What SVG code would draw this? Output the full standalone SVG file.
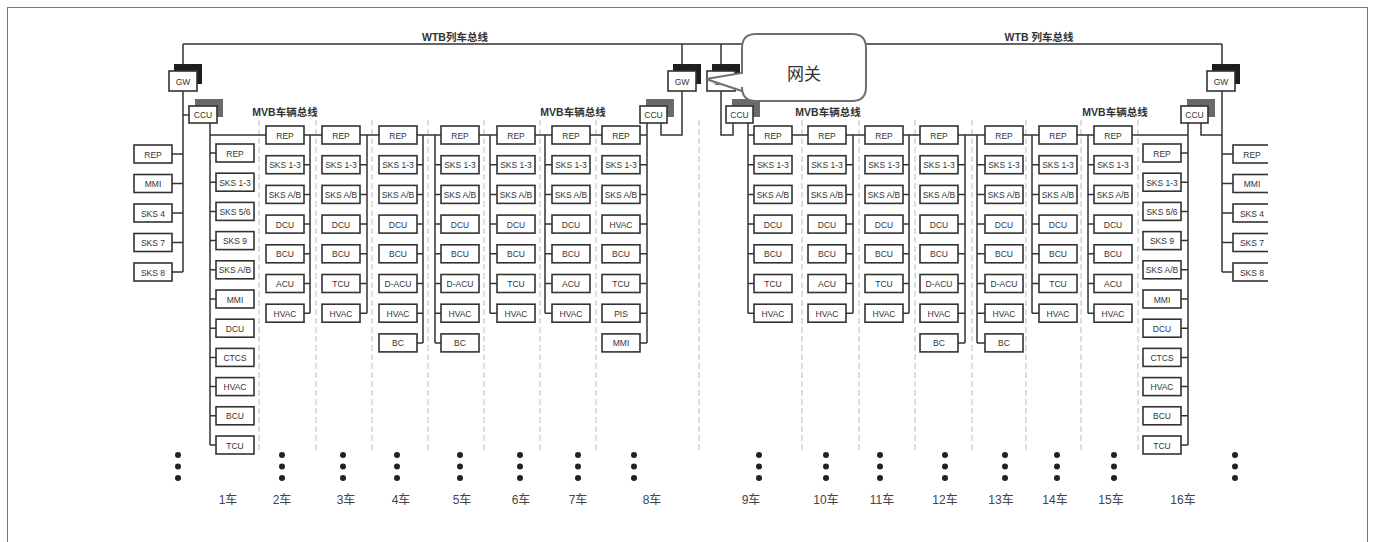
<svg xmlns="http://www.w3.org/2000/svg" width="1375" height="542" viewBox="0 0 1375 542">
<style>
.b{fill:#fff;stroke:#333;stroke-width:1.6}
.t{font-family:"Liberation Sans",Arial,sans-serif;font-size:8.5px;fill:#333;text-anchor:middle}
.w{fill:none;stroke:#333;stroke-width:1.5}
.d{fill:none;stroke:#bdbdbd;stroke-width:1;stroke-dasharray:6 3}
.sg{fill:#1e1e1e}
.sc{fill:#6a6a6a}
.lb{font-family:"Liberation Sans","Noto Sans CJK SC",sans-serif;font-size:10.5px;fill:#333;text-anchor:middle;font-weight:bold}
.cl{font-family:"Liberation Sans","Noto Sans CJK SC",sans-serif;font-size:12px;fill:#444;text-anchor:middle}
.dot{fill:#222}
</style>
<defs>
<clipPath id="clipR"><rect x="0" y="0" width="1268" height="542"/></clipPath>
</defs>
<rect x="0" y="0" width="1375" height="542" fill="#fff"/>
<rect x="7.5" y="7.5" width="1360" height="545" fill="none" stroke="#777" stroke-width="1"/>

<g id="separators">
<path class="d" d="M259,120V450 M316,120V450 M372,120V450 M428,120V450 M484,120V450 M540,120V450 M596,120V450 M699,120V450 M802,120V450 M859,120V450 M915,120V450 M972,120V450 M1026,120V450 M1081,120V450 M1138,120V450"/>
</g>

<g id="labels">
<text class="lb" x="455" y="41">WTB列车总线</text>
<text class="lb" x="1039" y="41">WTB 列车总线</text>
<text class="lb" x="285" y="116">MVB车辆总线</text>
<text class="lb" x="573" y="116">MVB车辆总线</text>
<text class="lb" x="828" y="116">MVB车辆总线</text>
<text class="lb" x="1115" y="116">MVB车辆总线</text>
</g>

<g id="connectors">
<path class="w" d="M183,44H1222 M183,44V272 M183,115H189 M682,44V135H661V123 M721,44V135H733V123 M1222,44V272 M1201,123V135H1222"/>
<path class="w" d="M172,154H183 M172,183.5H183 M172,213H183 M172,242.5H183 M172,272H183"/>
<path class="w" d="M210,123V445 M210,135H647 M210,153H216 M210,182.2H216 M210,211.4H216 M210,240.6H216 M210,269.8H216 M210,299H216 M210,328.2H216 M210,357.4H216 M210,386.6H216 M210,415.8H216 M210,445H216"/>
<path class="w" d="M310,135V313.2 M304,164.7H310 M304,194.4H310 M304,224.1H310 M304,253.8H310 M304,283.5H310 M304,313.2H310"/>
<path class="w" d="M367,135V313.2 M360,164.7H367 M360,194.4H367 M360,224.1H367 M360,253.8H367 M360,283.5H367 M360,313.2H367"/>
<path class="w" d="M423,135V342.9 M417,164.7H423 M417,194.4H423 M417,224.1H423 M417,253.8H423 M417,283.5H423 M417,313.2H423 M417,342.9H423"/>
<path class="w" d="M435,135V342.9 M435,164.7H441 M435,194.4H441 M435,224.1H441 M435,253.8H441 M435,283.5H441 M435,313.2H441 M435,342.9H441"/>
<path class="w" d="M490,135V313.2 M490,164.7H497 M490,194.4H497 M490,224.1H497 M490,253.8H497 M490,283.5H497 M490,313.2H497"/>
<path class="w" d="M545,135V313.2 M545,164.7H552 M545,194.4H552 M545,224.1H552 M545,253.8H552 M545,283.5H552 M545,313.2H552"/>
<path class="w" d="M647,123V342.9 M640,164.7H647 M640,194.4H647 M640,224.1H647 M640,253.8H647 M640,283.5H647 M640,313.2H647 M640,342.9H647"/>
<path class="w" d="M748,123V313.2 M748,135H1188 M748,164.7H754 M748,194.4H754 M748,224.1H754 M748,253.8H754 M748,283.5H754 M748,313.2H754"/>
<path class="w" d="M853,135V313.2 M846,164.7H853 M846,194.4H853 M846,224.1H853 M846,253.8H853 M846,283.5H853 M846,313.2H853"/>
<path class="w" d="M909,135V313.2 M903,164.7H909 M903,194.4H909 M903,224.1H909 M903,253.8H909 M903,283.5H909 M903,313.2H909"/>
<path class="w" d="M965,135V342.9 M958,164.7H965 M958,194.4H965 M958,224.1H965 M958,253.8H965 M958,283.5H965 M958,313.2H965 M958,342.9H965"/>
<path class="w" d="M977,135V342.9 M977,164.7H985 M977,194.4H985 M977,224.1H985 M977,253.8H985 M977,283.5H985 M977,313.2H985 M977,342.9H985"/>
<path class="w" d="M1032,135V313.2 M1032,164.7H1039 M1032,194.4H1039 M1032,224.1H1039 M1032,253.8H1039 M1032,283.5H1039 M1032,313.2H1039"/>
<path class="w" d="M1088,135V313.2 M1088,164.7H1094 M1088,194.4H1094 M1088,224.1H1094 M1088,253.8H1094 M1088,283.5H1094 M1088,313.2H1094"/>
<path class="w" d="M1188,123V445 M1181,153H1188 M1181,182.2H1188 M1181,211.4H1188 M1181,240.6H1188 M1181,269.8H1188 M1181,299H1188 M1181,328.2H1188 M1181,357.4H1188 M1181,386.6H1188 M1181,415.8H1188 M1181,445H1188"/>
<path class="w" d="M1222,154H1233 M1222,183.5H1233 M1222,213H1233 M1222,242.5H1233 M1222,272H1233"/>
</g>

<g id="gw1"><rect class="sg" x="174" y="64" width="28" height="20"/><rect class="b" x="169" y="71" width="28" height="20"/><text class="t" x="183" y="84.5">GW</text></g>
<g id="gw8"><rect class="sg" x="673" y="64" width="28" height="20"/><rect class="b" x="668" y="71" width="28" height="20"/><text class="t" x="682" y="84.5">GW</text></g>
<g id="gw9"><rect class="sg" x="712" y="64" width="28" height="20"/><rect class="b" x="707" y="71" width="28" height="20"/><text class="t" x="721" y="84.5">GW</text></g>
<g id="gw16"><rect class="sg" x="1212" y="64" width="28" height="20"/><rect class="b" x="1207" y="71" width="28" height="20"/><text class="t" x="1221" y="84.5">GW</text></g>
<g id="ccu1"><rect class="sc" x="195" y="99" width="28" height="18"/><rect class="b" x="189" y="106" width="28" height="17"/><text class="t" x="203" y="118">CCU</text></g>
<g id="ccu8"><rect class="sc" x="646" y="99" width="28" height="18"/><rect class="b" x="640" y="106" width="27" height="17"/><text class="t" x="653.5" y="118">CCU</text></g>
<g id="ccu9"><rect class="sc" x="732" y="99" width="28" height="18"/><rect class="b" x="726" y="106" width="27" height="17"/><text class="t" x="739.5" y="118">CCU</text></g>
<g id="ccu16"><rect class="sc" x="1187" y="99" width="28" height="18"/><rect class="b" x="1181" y="106" width="27" height="17"/><text class="t" x="1194.5" y="118">CCU</text></g>

<g id="L-1" transform="translate(134,145)"><rect class="b" width="38" height="18"/><text class="t" x="19" y="12.5">REP</text></g>
<g id="L-2" transform="translate(134,174.5)"><rect class="b" width="38" height="18"/><text class="t" x="19" y="12.5">MMI</text></g>
<g id="L-3" transform="translate(134,204)"><rect class="b" width="38" height="18"/><text class="t" x="19" y="12.5">SKS 4</text></g>
<g id="L-4" transform="translate(134,233.5)"><rect class="b" width="38" height="18"/><text class="t" x="19" y="12.5">SKS 7</text></g>
<g id="L-5" transform="translate(134,263)"><rect class="b" width="38" height="18"/><text class="t" x="19" y="12.5">SKS 8</text></g>

<g id="c1-1" transform="translate(216,144)"><rect class="b" width="38" height="18"/><text class="t" x="19" y="12.5">REP</text></g>
<g id="c1-2" transform="translate(216,173.2)"><rect class="b" width="38" height="18"/><text class="t" x="19" y="12.5">SKS 1-3</text></g>
<g id="c1-3" transform="translate(216,202.4)"><rect class="b" width="38" height="18"/><text class="t" x="19" y="12.5">SKS 5/6</text></g>
<g id="c1-4" transform="translate(216,231.6)"><rect class="b" width="38" height="18"/><text class="t" x="19" y="12.5">SKS 9</text></g>
<g id="c1-5" transform="translate(216,260.8)"><rect class="b" width="38" height="18"/><text class="t" x="19" y="12.5">SKS A/B</text></g>
<g id="c1-6" transform="translate(216,290)"><rect class="b" width="38" height="18"/><text class="t" x="19" y="12.5">MMI</text></g>
<g id="c1-7" transform="translate(216,319.2)"><rect class="b" width="38" height="18"/><text class="t" x="19" y="12.5">DCU</text></g>
<g id="c1-8" transform="translate(216,348.4)"><rect class="b" width="38" height="18"/><text class="t" x="19" y="12.5">CTCS</text></g>
<g id="c1-9" transform="translate(216,377.6)"><rect class="b" width="38" height="18"/><text class="t" x="19" y="12.5">HVAC</text></g>
<g id="c1-10" transform="translate(216,406.8)"><rect class="b" width="38" height="18"/><text class="t" x="19" y="12.5">BCU</text></g>
<g id="c1-11" transform="translate(216,436)"><rect class="b" width="38" height="18"/><text class="t" x="19" y="12.5">TCU</text></g>

<g id="c2-1" transform="translate(266,126)"><rect class="b" width="38" height="18"/><text class="t" x="19" y="12.5">REP</text></g>
<g id="c2-2" transform="translate(266,155.7)"><rect class="b" width="38" height="18"/><text class="t" x="19" y="12.5">SKS 1-3</text></g>
<g id="c2-3" transform="translate(266,185.4)"><rect class="b" width="38" height="18"/><text class="t" x="19" y="12.5">SKS A/B</text></g>
<g id="c2-4" transform="translate(266,215.1)"><rect class="b" width="38" height="18"/><text class="t" x="19" y="12.5">DCU</text></g>
<g id="c2-5" transform="translate(266,244.8)"><rect class="b" width="38" height="18"/><text class="t" x="19" y="12.5">BCU</text></g>
<g id="c2-6" transform="translate(266,274.5)"><rect class="b" width="38" height="18"/><text class="t" x="19" y="12.5">ACU</text></g>
<g id="c2-7" transform="translate(266,304.2)"><rect class="b" width="38" height="18"/><text class="t" x="19" y="12.5">HVAC</text></g>

<g id="c3-1" transform="translate(322,126)"><rect class="b" width="38" height="18"/><text class="t" x="19" y="12.5">REP</text></g>
<g id="c3-2" transform="translate(322,155.7)"><rect class="b" width="38" height="18"/><text class="t" x="19" y="12.5">SKS 1-3</text></g>
<g id="c3-3" transform="translate(322,185.4)"><rect class="b" width="38" height="18"/><text class="t" x="19" y="12.5">SKS A/B</text></g>
<g id="c3-4" transform="translate(322,215.1)"><rect class="b" width="38" height="18"/><text class="t" x="19" y="12.5">DCU</text></g>
<g id="c3-5" transform="translate(322,244.8)"><rect class="b" width="38" height="18"/><text class="t" x="19" y="12.5">BCU</text></g>
<g id="c3-6" transform="translate(322,274.5)"><rect class="b" width="38" height="18"/><text class="t" x="19" y="12.5">TCU</text></g>
<g id="c3-7" transform="translate(322,304.2)"><rect class="b" width="38" height="18"/><text class="t" x="19" y="12.5">HVAC</text></g>

<g id="c4-1" transform="translate(379,126)"><rect class="b" width="38" height="18"/><text class="t" x="19" y="12.5">REP</text></g>
<g id="c4-2" transform="translate(379,155.7)"><rect class="b" width="38" height="18"/><text class="t" x="19" y="12.5">SKS 1-3</text></g>
<g id="c4-3" transform="translate(379,185.4)"><rect class="b" width="38" height="18"/><text class="t" x="19" y="12.5">SKS A/B</text></g>
<g id="c4-4" transform="translate(379,215.1)"><rect class="b" width="38" height="18"/><text class="t" x="19" y="12.5">DCU</text></g>
<g id="c4-5" transform="translate(379,244.8)"><rect class="b" width="38" height="18"/><text class="t" x="19" y="12.5">BCU</text></g>
<g id="c4-6" transform="translate(379,274.5)"><rect class="b" width="38" height="18"/><text class="t" x="19" y="12.5">D-ACU</text></g>
<g id="c4-7" transform="translate(379,304.2)"><rect class="b" width="38" height="18"/><text class="t" x="19" y="12.5">HVAC</text></g>
<g id="c4-8" transform="translate(379,333.9)"><rect class="b" width="38" height="18"/><text class="t" x="19" y="12.5">BC</text></g>

<g id="c5-1" transform="translate(441,126)"><rect class="b" width="38" height="18"/><text class="t" x="19" y="12.5">REP</text></g>
<g id="c5-2" transform="translate(441,155.7)"><rect class="b" width="38" height="18"/><text class="t" x="19" y="12.5">SKS 1-3</text></g>
<g id="c5-3" transform="translate(441,185.4)"><rect class="b" width="38" height="18"/><text class="t" x="19" y="12.5">SKS A/B</text></g>
<g id="c5-4" transform="translate(441,215.1)"><rect class="b" width="38" height="18"/><text class="t" x="19" y="12.5">DCU</text></g>
<g id="c5-5" transform="translate(441,244.8)"><rect class="b" width="38" height="18"/><text class="t" x="19" y="12.5">BCU</text></g>
<g id="c5-6" transform="translate(441,274.5)"><rect class="b" width="38" height="18"/><text class="t" x="19" y="12.5">D-ACU</text></g>
<g id="c5-7" transform="translate(441,304.2)"><rect class="b" width="38" height="18"/><text class="t" x="19" y="12.5">HVAC</text></g>
<g id="c5-8" transform="translate(441,333.9)"><rect class="b" width="38" height="18"/><text class="t" x="19" y="12.5">BC</text></g>

<g id="c6-1" transform="translate(497,126)"><rect class="b" width="38" height="18"/><text class="t" x="19" y="12.5">REP</text></g>
<g id="c6-2" transform="translate(497,155.7)"><rect class="b" width="38" height="18"/><text class="t" x="19" y="12.5">SKS 1-3</text></g>
<g id="c6-3" transform="translate(497,185.4)"><rect class="b" width="38" height="18"/><text class="t" x="19" y="12.5">SKS A/B</text></g>
<g id="c6-4" transform="translate(497,215.1)"><rect class="b" width="38" height="18"/><text class="t" x="19" y="12.5">DCU</text></g>
<g id="c6-5" transform="translate(497,244.8)"><rect class="b" width="38" height="18"/><text class="t" x="19" y="12.5">BCU</text></g>
<g id="c6-6" transform="translate(497,274.5)"><rect class="b" width="38" height="18"/><text class="t" x="19" y="12.5">TCU</text></g>
<g id="c6-7" transform="translate(497,304.2)"><rect class="b" width="38" height="18"/><text class="t" x="19" y="12.5">HVAC</text></g>

<g id="c7-1" transform="translate(552,126)"><rect class="b" width="38" height="18"/><text class="t" x="19" y="12.5">REP</text></g>
<g id="c7-2" transform="translate(552,155.7)"><rect class="b" width="38" height="18"/><text class="t" x="19" y="12.5">SKS 1-3</text></g>
<g id="c7-3" transform="translate(552,185.4)"><rect class="b" width="38" height="18"/><text class="t" x="19" y="12.5">SKS A/B</text></g>
<g id="c7-4" transform="translate(552,215.1)"><rect class="b" width="38" height="18"/><text class="t" x="19" y="12.5">DCU</text></g>
<g id="c7-5" transform="translate(552,244.8)"><rect class="b" width="38" height="18"/><text class="t" x="19" y="12.5">BCU</text></g>
<g id="c7-6" transform="translate(552,274.5)"><rect class="b" width="38" height="18"/><text class="t" x="19" y="12.5">ACU</text></g>
<g id="c7-7" transform="translate(552,304.2)"><rect class="b" width="38" height="18"/><text class="t" x="19" y="12.5">HVAC</text></g>

<g id="c8-1" transform="translate(602,126)"><rect class="b" width="38" height="18"/><text class="t" x="19" y="12.5">REP</text></g>
<g id="c8-2" transform="translate(602,155.7)"><rect class="b" width="38" height="18"/><text class="t" x="19" y="12.5">SKS 1-3</text></g>
<g id="c8-3" transform="translate(602,185.4)"><rect class="b" width="38" height="18"/><text class="t" x="19" y="12.5">SKS A/B</text></g>
<g id="c8-4" transform="translate(602,215.1)"><rect class="b" width="38" height="18"/><text class="t" x="19" y="12.5">HVAC</text></g>
<g id="c8-5" transform="translate(602,244.8)"><rect class="b" width="38" height="18"/><text class="t" x="19" y="12.5">BCU</text></g>
<g id="c8-6" transform="translate(602,274.5)"><rect class="b" width="38" height="18"/><text class="t" x="19" y="12.5">TCU</text></g>
<g id="c8-7" transform="translate(602,304.2)"><rect class="b" width="38" height="18"/><text class="t" x="19" y="12.5">PIS</text></g>
<g id="c8-8" transform="translate(602,333.9)"><rect class="b" width="38" height="18"/><text class="t" x="19" y="12.5">MMI</text></g>

<g id="c9-1" transform="translate(754,126)"><rect class="b" width="38" height="18"/><text class="t" x="19" y="12.5">REP</text></g>
<g id="c9-2" transform="translate(754,155.7)"><rect class="b" width="38" height="18"/><text class="t" x="19" y="12.5">SKS 1-3</text></g>
<g id="c9-3" transform="translate(754,185.4)"><rect class="b" width="38" height="18"/><text class="t" x="19" y="12.5">SKS A/B</text></g>
<g id="c9-4" transform="translate(754,215.1)"><rect class="b" width="38" height="18"/><text class="t" x="19" y="12.5">DCU</text></g>
<g id="c9-5" transform="translate(754,244.8)"><rect class="b" width="38" height="18"/><text class="t" x="19" y="12.5">BCU</text></g>
<g id="c9-6" transform="translate(754,274.5)"><rect class="b" width="38" height="18"/><text class="t" x="19" y="12.5">TCU</text></g>
<g id="c9-7" transform="translate(754,304.2)"><rect class="b" width="38" height="18"/><text class="t" x="19" y="12.5">HVAC</text></g>

<g id="c10-1" transform="translate(808,126)"><rect class="b" width="38" height="18"/><text class="t" x="19" y="12.5">REP</text></g>
<g id="c10-2" transform="translate(808,155.7)"><rect class="b" width="38" height="18"/><text class="t" x="19" y="12.5">SKS 1-3</text></g>
<g id="c10-3" transform="translate(808,185.4)"><rect class="b" width="38" height="18"/><text class="t" x="19" y="12.5">SKS A/B</text></g>
<g id="c10-4" transform="translate(808,215.1)"><rect class="b" width="38" height="18"/><text class="t" x="19" y="12.5">DCU</text></g>
<g id="c10-5" transform="translate(808,244.8)"><rect class="b" width="38" height="18"/><text class="t" x="19" y="12.5">BCU</text></g>
<g id="c10-6" transform="translate(808,274.5)"><rect class="b" width="38" height="18"/><text class="t" x="19" y="12.5">ACU</text></g>
<g id="c10-7" transform="translate(808,304.2)"><rect class="b" width="38" height="18"/><text class="t" x="19" y="12.5">HVAC</text></g>

<g id="c11-1" transform="translate(865,126)"><rect class="b" width="38" height="18"/><text class="t" x="19" y="12.5">REP</text></g>
<g id="c11-2" transform="translate(865,155.7)"><rect class="b" width="38" height="18"/><text class="t" x="19" y="12.5">SKS 1-3</text></g>
<g id="c11-3" transform="translate(865,185.4)"><rect class="b" width="38" height="18"/><text class="t" x="19" y="12.5">SKS A/B</text></g>
<g id="c11-4" transform="translate(865,215.1)"><rect class="b" width="38" height="18"/><text class="t" x="19" y="12.5">DCU</text></g>
<g id="c11-5" transform="translate(865,244.8)"><rect class="b" width="38" height="18"/><text class="t" x="19" y="12.5">BCU</text></g>
<g id="c11-6" transform="translate(865,274.5)"><rect class="b" width="38" height="18"/><text class="t" x="19" y="12.5">TCU</text></g>
<g id="c11-7" transform="translate(865,304.2)"><rect class="b" width="38" height="18"/><text class="t" x="19" y="12.5">HVAC</text></g>

<g id="c12-1" transform="translate(920,126)"><rect class="b" width="38" height="18"/><text class="t" x="19" y="12.5">REP</text></g>
<g id="c12-2" transform="translate(920,155.7)"><rect class="b" width="38" height="18"/><text class="t" x="19" y="12.5">SKS 1-3</text></g>
<g id="c12-3" transform="translate(920,185.4)"><rect class="b" width="38" height="18"/><text class="t" x="19" y="12.5">SKS A/B</text></g>
<g id="c12-4" transform="translate(920,215.1)"><rect class="b" width="38" height="18"/><text class="t" x="19" y="12.5">DCU</text></g>
<g id="c12-5" transform="translate(920,244.8)"><rect class="b" width="38" height="18"/><text class="t" x="19" y="12.5">BCU</text></g>
<g id="c12-6" transform="translate(920,274.5)"><rect class="b" width="38" height="18"/><text class="t" x="19" y="12.5">D-ACU</text></g>
<g id="c12-7" transform="translate(920,304.2)"><rect class="b" width="38" height="18"/><text class="t" x="19" y="12.5">HVAC</text></g>
<g id="c12-8" transform="translate(920,333.9)"><rect class="b" width="38" height="18"/><text class="t" x="19" y="12.5">BC</text></g>

<g id="c13-1" transform="translate(985,126)"><rect class="b" width="38" height="18"/><text class="t" x="19" y="12.5">REP</text></g>
<g id="c13-2" transform="translate(985,155.7)"><rect class="b" width="38" height="18"/><text class="t" x="19" y="12.5">SKS 1-3</text></g>
<g id="c13-3" transform="translate(985,185.4)"><rect class="b" width="38" height="18"/><text class="t" x="19" y="12.5">SKS A/B</text></g>
<g id="c13-4" transform="translate(985,215.1)"><rect class="b" width="38" height="18"/><text class="t" x="19" y="12.5">DCU</text></g>
<g id="c13-5" transform="translate(985,244.8)"><rect class="b" width="38" height="18"/><text class="t" x="19" y="12.5">BCU</text></g>
<g id="c13-6" transform="translate(985,274.5)"><rect class="b" width="38" height="18"/><text class="t" x="19" y="12.5">D-ACU</text></g>
<g id="c13-7" transform="translate(985,304.2)"><rect class="b" width="38" height="18"/><text class="t" x="19" y="12.5">HVAC</text></g>
<g id="c13-8" transform="translate(985,333.9)"><rect class="b" width="38" height="18"/><text class="t" x="19" y="12.5">BC</text></g>

<g id="c14-1" transform="translate(1039,126)"><rect class="b" width="38" height="18"/><text class="t" x="19" y="12.5">REP</text></g>
<g id="c14-2" transform="translate(1039,155.7)"><rect class="b" width="38" height="18"/><text class="t" x="19" y="12.5">SKS 1-3</text></g>
<g id="c14-3" transform="translate(1039,185.4)"><rect class="b" width="38" height="18"/><text class="t" x="19" y="12.5">SKS A/B</text></g>
<g id="c14-4" transform="translate(1039,215.1)"><rect class="b" width="38" height="18"/><text class="t" x="19" y="12.5">DCU</text></g>
<g id="c14-5" transform="translate(1039,244.8)"><rect class="b" width="38" height="18"/><text class="t" x="19" y="12.5">BCU</text></g>
<g id="c14-6" transform="translate(1039,274.5)"><rect class="b" width="38" height="18"/><text class="t" x="19" y="12.5">TCU</text></g>
<g id="c14-7" transform="translate(1039,304.2)"><rect class="b" width="38" height="18"/><text class="t" x="19" y="12.5">HVAC</text></g>

<g id="c15-1" transform="translate(1094,126)"><rect class="b" width="38" height="18"/><text class="t" x="19" y="12.5">REP</text></g>
<g id="c15-2" transform="translate(1094,155.7)"><rect class="b" width="38" height="18"/><text class="t" x="19" y="12.5">SKS 1-3</text></g>
<g id="c15-3" transform="translate(1094,185.4)"><rect class="b" width="38" height="18"/><text class="t" x="19" y="12.5">SKS A/B</text></g>
<g id="c15-4" transform="translate(1094,215.1)"><rect class="b" width="38" height="18"/><text class="t" x="19" y="12.5">DCU</text></g>
<g id="c15-5" transform="translate(1094,244.8)"><rect class="b" width="38" height="18"/><text class="t" x="19" y="12.5">BCU</text></g>
<g id="c15-6" transform="translate(1094,274.5)"><rect class="b" width="38" height="18"/><text class="t" x="19" y="12.5">ACU</text></g>
<g id="c15-7" transform="translate(1094,304.2)"><rect class="b" width="38" height="18"/><text class="t" x="19" y="12.5">HVAC</text></g>

<g id="c16-1" transform="translate(1143,144)"><rect class="b" width="38" height="18"/><text class="t" x="19" y="12.5">REP</text></g>
<g id="c16-2" transform="translate(1143,173.2)"><rect class="b" width="38" height="18"/><text class="t" x="19" y="12.5">SKS 1-3</text></g>
<g id="c16-3" transform="translate(1143,202.4)"><rect class="b" width="38" height="18"/><text class="t" x="19" y="12.5">SKS 5/6</text></g>
<g id="c16-4" transform="translate(1143,231.6)"><rect class="b" width="38" height="18"/><text class="t" x="19" y="12.5">SKS 9</text></g>
<g id="c16-5" transform="translate(1143,260.8)"><rect class="b" width="38" height="18"/><text class="t" x="19" y="12.5">SKS A/B</text></g>
<g id="c16-6" transform="translate(1143,290)"><rect class="b" width="38" height="18"/><text class="t" x="19" y="12.5">MMI</text></g>
<g id="c16-7" transform="translate(1143,319.2)"><rect class="b" width="38" height="18"/><text class="t" x="19" y="12.5">DCU</text></g>
<g id="c16-8" transform="translate(1143,348.4)"><rect class="b" width="38" height="18"/><text class="t" x="19" y="12.5">CTCS</text></g>
<g id="c16-9" transform="translate(1143,377.6)"><rect class="b" width="38" height="18"/><text class="t" x="19" y="12.5">HVAC</text></g>
<g id="c16-10" transform="translate(1143,406.8)"><rect class="b" width="38" height="18"/><text class="t" x="19" y="12.5">BCU</text></g>
<g id="c16-11" transform="translate(1143,436)"><rect class="b" width="38" height="18"/><text class="t" x="19" y="12.5">TCU</text></g>

<g clip-path="url(#clipR)">
<g id="R-1" transform="translate(1233,145)"><rect class="b" width="38" height="18"/><text class="t" x="19" y="12.5">REP</text></g>
<g id="R-2" transform="translate(1233,174.5)"><rect class="b" width="38" height="18"/><text class="t" x="19" y="12.5">MMI</text></g>
<g id="R-3" transform="translate(1233,204)"><rect class="b" width="38" height="18"/><text class="t" x="19" y="12.5">SKS 4</text></g>
<g id="R-4" transform="translate(1233,233.5)"><rect class="b" width="38" height="18"/><text class="t" x="19" y="12.5">SKS 7</text></g>
<g id="R-5" transform="translate(1233,263)"><rect class="b" width="38" height="18"/><text class="t" x="19" y="12.5">SKS 8</text></g>
</g>

<g id="ellipses">
<g class="dot">
<circle cx="178" cy="455" r="3"/><circle cx="178" cy="466.5" r="3"/><circle cx="178" cy="478" r="3"/>
<circle cx="282" cy="455" r="3"/><circle cx="282" cy="466.5" r="3"/><circle cx="282" cy="478" r="3"/>
<circle cx="343" cy="455" r="3"/><circle cx="343" cy="466.5" r="3"/><circle cx="343" cy="478" r="3"/>
<circle cx="397" cy="455" r="3"/><circle cx="397" cy="466.5" r="3"/><circle cx="397" cy="478" r="3"/>
<circle cx="460" cy="455" r="3"/><circle cx="460" cy="466.5" r="3"/><circle cx="460" cy="478" r="3"/>
<circle cx="520" cy="455" r="3"/><circle cx="520" cy="466.5" r="3"/><circle cx="520" cy="478" r="3"/>
<circle cx="578" cy="455" r="3"/><circle cx="578" cy="466.5" r="3"/><circle cx="578" cy="478" r="3"/>
<circle cx="634" cy="455" r="3"/><circle cx="634" cy="466.5" r="3"/><circle cx="634" cy="478" r="3"/>
<circle cx="759" cy="455" r="3"/><circle cx="759" cy="466.5" r="3"/><circle cx="759" cy="478" r="3"/>
<circle cx="826" cy="455" r="3"/><circle cx="826" cy="466.5" r="3"/><circle cx="826" cy="478" r="3"/>
<circle cx="880" cy="455" r="3"/><circle cx="880" cy="466.5" r="3"/><circle cx="880" cy="478" r="3"/>
<circle cx="945" cy="455" r="3"/><circle cx="945" cy="466.5" r="3"/><circle cx="945" cy="478" r="3"/>
<circle cx="1005" cy="455" r="3"/><circle cx="1005" cy="466.5" r="3"/><circle cx="1005" cy="478" r="3"/>
<circle cx="1057" cy="455" r="3"/><circle cx="1057" cy="466.5" r="3"/><circle cx="1057" cy="478" r="3"/>
<circle cx="1114" cy="455" r="3"/><circle cx="1114" cy="466.5" r="3"/><circle cx="1114" cy="478" r="3"/>
<circle cx="1235" cy="455" r="3"/><circle cx="1235" cy="466.5" r="3"/><circle cx="1235" cy="478" r="3"/>
</g>
</g>

<g id="car-labels">
<text class="cl" x="228" y="504">1车</text>
<text class="cl" x="282" y="504">2车</text>
<text class="cl" x="346" y="504">3车</text>
<text class="cl" x="401" y="504">4车</text>
<text class="cl" x="462" y="504">5车</text>
<text class="cl" x="521" y="504">6车</text>
<text class="cl" x="578" y="504">7车</text>
<text class="cl" x="652" y="504">8车</text>
<text class="cl" x="751" y="504">9车</text>
<text class="cl" x="826" y="504">10车</text>
<text class="cl" x="882" y="504">11车</text>
<text class="cl" x="945" y="504">12车</text>
<text class="cl" x="1001" y="504">13车</text>
<text class="cl" x="1055" y="504">14车</text>
<text class="cl" x="1111" y="504">15车</text>
<text class="cl" x="1183" y="504">16车</text>
</g>

<g id="callout">
<path d="M756,34H852Q866,34 866,48V87Q866,101 852,101H756Q742,101 742,87V91L706,79L742,73V48Q742,34 756,34Z" fill="#fff" stroke="#707070" stroke-width="2"/>
<text x="804" y="80" font-family="'Noto Sans CJK SC','Liberation Sans',sans-serif" font-size="17" fill="#333" text-anchor="middle">网关</text>
</g>
</svg>
